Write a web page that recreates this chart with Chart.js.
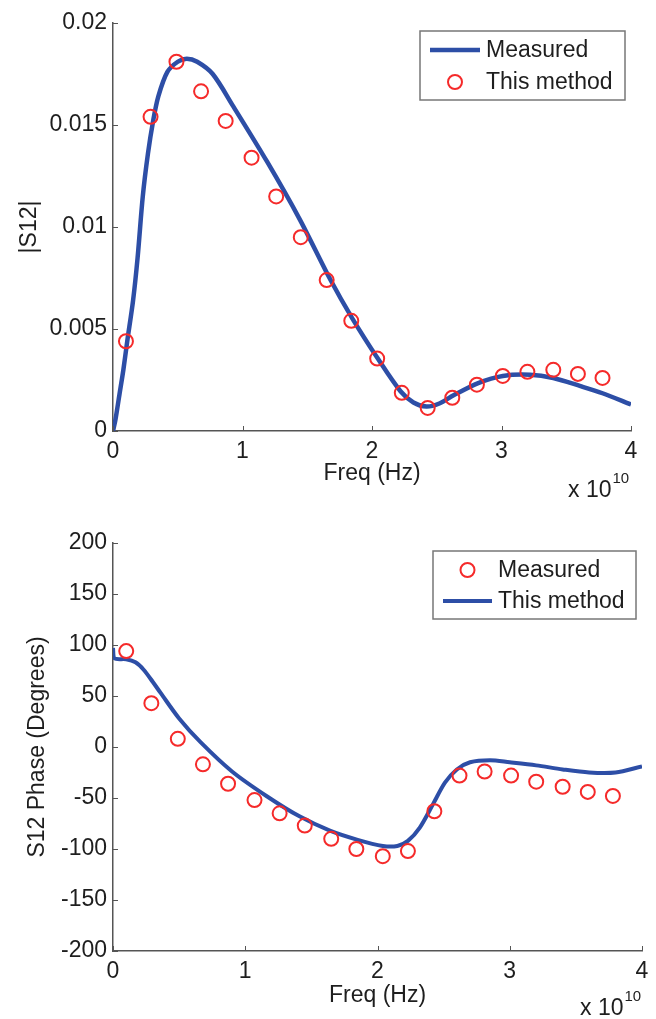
<!DOCTYPE html>
<html>
<head>
<meta charset="utf-8">
<script src="https://cdn.jsdelivr.net/npm/chart.js@4.4.1/dist/chart.umd.min.js"></script>
<style>
  html, body { margin: 0; padding: 0; background: #fff; }
  canvas { display: block; }
</style>
</head>
<body>
<canvas id="magChart" width="656" height="510"></canvas>
<canvas id="phaseChart" width="656" height="509"></canvas>
<script>
// frequencies are in units of 1e10 Hz (axis shows "x 10^10")
const magMeasFreq = [0, 0.02, 0.05, 0.08, 0.11, 0.155, 0.19, 0.23, 0.27, 0.31, 0.35, 0.42, 0.5, 0.57, 0.65, 0.77, 0.93, 1.19, 1.44, 1.68, 1.85, 2.05, 2.22, 2.32, 2.42, 2.52, 2.63, 2.82, 3.01, 3.22, 3.4, 3.61, 3.78, 4.0];
const magMeasured = [0, 0.0006, 0.0018, 0.003, 0.0044, 0.0064, 0.0085, 0.0115, 0.0136, 0.0152, 0.0164, 0.0176, 0.0181, 0.01825, 0.0181, 0.0175, 0.0159, 0.0132, 0.0104, 0.0074, 0.0055, 0.0035, 0.00195, 0.0014, 0.0012, 0.00135, 0.00175, 0.00235, 0.0027, 0.00276, 0.0026, 0.0022, 0.00185, 0.0013];

const methodFreq = [0.1, 0.29, 0.49, 0.68, 0.87, 1.07, 1.26, 1.45, 1.65, 1.84, 2.04, 2.23, 2.43, 2.62, 2.81, 3.01, 3.2, 3.4, 3.59, 3.78];
const magMethod = [0.0044, 0.0154, 0.0181, 0.01665, 0.0152, 0.0134, 0.0115, 0.0095, 0.0074, 0.0054, 0.00355, 0.00187, 0.00113, 0.00163, 0.00227, 0.0027, 0.0029, 0.003, 0.0028, 0.0026];

const phaseMeasured = [94, 43, 8, -17, -36, -52, -65, -77, -90, -100, -107, -102, -63, -28, -24, -28, -34, -39, -44, -48];

const phaseMethodFreq = [0, 0.01, 0.1, 0.17, 0.23, 0.3, 0.36, 0.5, 0.66, 0.9, 1.16, 1.41, 1.64, 1.85, 2.04, 2.15, 2.23, 2.32, 2.42, 2.51, 2.6, 2.7, 2.85, 3.0, 3.2, 3.4, 3.6, 3.8, 4.0];
const phaseMethod = [97, 87, 86, 83, 76, 64, 53, 28, 5, -24, -48, -68, -82, -91, -97, -97, -92, -79, -56, -35, -22, -15, -13, -15, -18, -22, -25, -25, -19];

const freqTicks = [0, 1, 2, 3, 4];

const FONT = '"Liberation Sans", Arial, Helvetica, sans-serif';
const TEXT = '#1e1e1e';
const AXIS = '#555';
const BLUE = '#2d4ea6';
const RED = '#f52a2a';

function pts(xs, ys) {
  return xs.map((x, i) => ({ x: x, y: ys[i] }));
}

// matlab style: ticks pointing into the plot, exponent note, boxed legend
const matlabBits = {
  id: 'matlabBits',
  afterDraw(chart, args, opts) {
    const ctx = chart.ctx;
    const xs = chart.scales.x, ys = chart.scales.y;
    const a = chart.chartArea;
    ctx.save();
    ctx.strokeStyle = AXIS;
    ctx.lineWidth = 1;
    ctx.beginPath();
    xs.ticks.forEach(t => {
      const px = Math.round(xs.getPixelForValue(t.value)) + 0.5;
      ctx.moveTo(px, a.bottom);
      ctx.lineTo(px, a.bottom - 5);
    });
    ys.ticks.forEach(t => {
      const py = Math.round(ys.getPixelForValue(t.value)) + 0.5;
      ctx.moveTo(a.left, py);
      ctx.lineTo(a.left + 5, py);
    });
    ctx.stroke();

    // x 10^10
    ctx.fillStyle = TEXT;
    ctx.textBaseline = 'alphabetic';
    ctx.textAlign = 'left';
    ctx.font = '23px ' + FONT;
    ctx.fillText('x 10', opts.expX, opts.expY);
    const w = ctx.measureText('x 10').width;
    ctx.font = '15px ' + FONT;
    ctx.fillText('10', opts.expX + w + 1, opts.expY - 14);

    // legend
    const L = opts.legend;
    ctx.fillStyle = '#fff';
    ctx.fillRect(L.x, L.y, L.w, L.h);
    ctx.strokeStyle = '#777';
    ctx.lineWidth = 1.5;
    ctx.strokeRect(L.x, L.y, L.w, L.h);
    ctx.font = '23px ' + FONT;
    ctx.textBaseline = 'middle';
    L.items.forEach((it, i) => {
      const ds = chart.data.datasets[it.ds];
      const cy = L.y + L.rowY[i];
      if (ds.showLine) {
        ctx.strokeStyle = ds.borderColor;
        ctx.lineWidth = ds.borderWidth;
        ctx.beginPath();
        ctx.moveTo(L.x + L.lineX0, cy);
        ctx.lineTo(L.x + L.lineX1, cy);
        ctx.stroke();
      } else {
        ctx.strokeStyle = ds.borderColor;
        ctx.lineWidth = ds.borderWidth;
        ctx.beginPath();
        ctx.arc(L.x + (L.lineX0 + L.lineX1) / 2, cy, ds.pointRadius, 0, Math.PI * 2);
        ctx.stroke();
      }
      ctx.fillStyle = TEXT;
      ctx.fillText(ds.label, L.x + L.textX, cy + 1);
    });
    ctx.restore();
  }
};

function makeOptions(cfg) {
  return {
    responsive: false,
    animation: false,
    layout: { padding: { left: 0, top: cfg.top, right: cfg.right, bottom: 0 } },
    plugins: {
      legend: { display: false },
      tooltip: { enabled: false },
      matlabBits: cfg.bits
    },
    scales: {
      x: {
        type: 'linear',
        min: 0, max: 4,
        afterBuildTicks: s => { s.ticks = freqTicks.map(v => ({ value: v })); },
        afterFit: s => { s.height = cfg.xHeight; },
        grid: { drawOnChartArea: false, drawTicks: false },
        border: { color: AXIS, width: 1.5 },
        ticks: { color: TEXT, font: { family: FONT, size: 23 }, padding: 7 },
        title: {
          display: true, text: 'Freq (Hz)', color: TEXT,
          font: { family: FONT, size: 23 },
          padding: { top: 0, bottom: cfg.xTitlePad }
        }
      },
      y: {
        type: 'linear',
        min: cfg.yMin, max: cfg.yMax,
        ticks: {
          stepSize: cfg.yStep, color: TEXT, font: { family: FONT, size: 23 }, padding: 6,
          callback: v => String(+v.toFixed(4))
        },
        afterFit: s => { s.width = 113; },
        grid: { drawOnChartArea: false, drawTicks: false },
        border: { color: AXIS, width: 1.5 },
        title: {
          display: true, text: cfg.yTitle, color: TEXT,
          font: { family: FONT, size: 23 },
          padding: { top: cfg.yTitlePad, bottom: 0 }
        }
      }
    }
  };
}

new Chart(document.getElementById('magChart'), {
  type: 'scatter',
  data: {
    datasets: [
      {
        label: 'Measured',
        data: pts(magMeasFreq, magMeasured),
        showLine: true, borderColor: BLUE, borderWidth: 4.5,
        pointRadius: 0, tension: 0.3, order: 2
      },
      {
        label: 'This method',
        data: pts(methodFreq, magMethod),
        showLine: false, borderColor: RED, backgroundColor: 'rgba(0,0,0,0)',
        borderWidth: 2, pointRadius: 7, order: 1
      }
    ]
  },
  options: makeOptions({
    top: 23, right: 25, xHeight: 79, xTitlePad: 23,
    yMin: 0, yMax: 0.02, yStep: 0.005, yTitle: '|S12|', yTitlePad: 16,
    bits: {
      expX: 568, expY: 497,
      legend: { x: 420, y: 31, w: 205, h: 69, rowY: [19, 51], lineX0: 10, lineX1: 60, textX: 66, items: [{ ds: 0 }, { ds: 1 }] }
    }
  }),
  plugins: [matlabBits]
});

new Chart(document.getElementById('phaseChart'), {
  type: 'scatter',
  data: {
    datasets: [
      {
        label: 'Measured',
        data: pts(methodFreq, phaseMeasured),
        showLine: false, borderColor: RED, backgroundColor: 'rgba(0,0,0,0)',
        borderWidth: 2, pointRadius: 7, order: 1
      },
      {
        label: 'This method',
        data: pts(phaseMethodFreq, phaseMethod),
        showLine: true, borderColor: BLUE, borderWidth: 4, pointRadius: 0,
        tension: 0.3, order: 2
      }
    ]
  },
  options: makeOptions({
    top: 33, right: 14, xHeight: 68, xTitlePad: 10,
    yMin: -200, yMax: 200, yStep: 50, yTitle: 'S12 Phase (Degrees)', yTitlePad: 24,
    bits: {
      expX: 580, expY: 505,
      legend: { x: 433, y: 41, w: 203, h: 68, rowY: [19, 50], lineX0: 10, lineX1: 59, textX: 65, items: [{ ds: 0 }, { ds: 1 }] }
    }
  }),
  plugins: [matlabBits]
});
</script>
</body>
</html>
